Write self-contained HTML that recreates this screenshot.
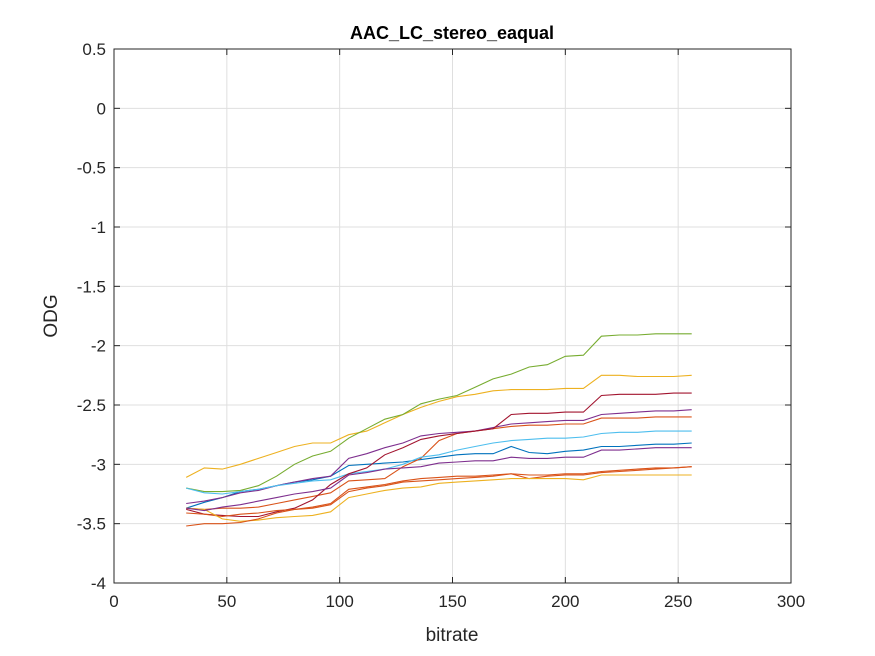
<!DOCTYPE html>
<html><head><meta charset="utf-8">
<style>
html,body{margin:0;padding:0;background:#fff;width:875px;height:656px;overflow:hidden}
svg text{font-family:"Liberation Sans",Arial,sans-serif;fill:#262626}
</style></head>
<body>
<svg id="chart" width="875" height="656" xmlns="http://www.w3.org/2000/svg">
<rect x="0" y="0" width="875" height="656" fill="#fff"/>
<text x="452" y="39" text-anchor="middle" font-size="18" font-weight="bold" style="fill:#000">AAC_LC_stereo_eaqual</text>
<text transform="translate(57,316) rotate(-90)" text-anchor="middle" font-size="19">ODG</text>
<text x="452" y="641" text-anchor="middle" font-size="19">bitrate</text>
<g id="grid"></g><g id="series"></g><g id="axes"></g>
</svg>
<script>
const bitrates = [32,40,48,56,64,72,80,88,96,104,112,120,128,136,144,152,160,168,176,184,192,200,208,216,224,232,240,248,256];
const xTicks = [0,50,100,150,200,250,300];
const yTicks = [0.5,0,-0.5,-1,-1.5,-2,-2.5,-3,-3.5,-4];
const yTickLabels = ["0.5","0","-0.5","-1","-1.5","-2","-2.5","-3","-3.5","-4"];
const sBlue = [-3.37,-3.32,-3.28,-3.23,-3.21,-3.18,-3.15,-3.13,-3.1,-3.01,-3.0,-2.99,-2.98,-2.96,-2.94,-2.92,-2.91,-2.91,-2.85,-2.9,-2.91,-2.89,-2.88,-2.85,-2.85,-2.84,-2.83,-2.83,-2.82];
const sOrange = [-3.37,-3.38,-3.37,-3.37,-3.36,-3.33,-3.3,-3.27,-3.24,-3.14,-3.13,-3.12,-3.02,-2.95,-2.8,-2.74,-2.72,-2.7,-2.68,-2.67,-2.67,-2.66,-2.66,-2.61,-2.61,-2.61,-2.6,-2.6,-2.6];
const sYellow = [-3.11,-3.03,-3.04,-3.0,-2.95,-2.9,-2.85,-2.82,-2.82,-2.75,-2.72,-2.65,-2.58,-2.52,-2.47,-2.43,-2.41,-2.38,-2.37,-2.37,-2.37,-2.36,-2.36,-2.25,-2.25,-2.26,-2.26,-2.26,-2.25];
const sPurple = [-3.33,-3.31,-3.28,-3.24,-3.22,-3.18,-3.15,-3.12,-3.1,-2.95,-2.91,-2.86,-2.82,-2.76,-2.74,-2.73,-2.72,-2.69,-2.66,-2.65,-2.64,-2.63,-2.63,-2.58,-2.57,-2.56,-2.55,-2.55,-2.54];
const sGreen = [-3.2,-3.23,-3.23,-3.22,-3.18,-3.1,-3.0,-2.93,-2.89,-2.78,-2.7,-2.62,-2.58,-2.49,-2.45,-2.42,-2.35,-2.28,-2.24,-2.18,-2.16,-2.09,-2.08,-1.92,-1.91,-1.91,-1.9,-1.9,-1.9];
const sCyan = [-3.2,-3.24,-3.25,-3.23,-3.21,-3.18,-3.16,-3.14,-3.13,-3.08,-3.06,-3.04,-3.0,-2.94,-2.92,-2.88,-2.85,-2.82,-2.8,-2.79,-2.78,-2.78,-2.77,-2.74,-2.73,-2.73,-2.72,-2.72,-2.72];
const sDarkRed = [-3.38,-3.42,-3.43,-3.44,-3.44,-3.4,-3.37,-3.3,-3.17,-3.08,-3.03,-2.92,-2.86,-2.79,-2.76,-2.74,-2.72,-2.7,-2.58,-2.57,-2.57,-2.56,-2.56,-2.42,-2.41,-2.41,-2.41,-2.4,-2.4];
const sOrange2 = [-3.41,-3.42,-3.44,-3.42,-3.41,-3.39,-3.38,-3.37,-3.34,-3.23,-3.2,-3.18,-3.15,-3.14,-3.13,-3.12,-3.11,-3.1,-3.08,-3.12,-3.1,-3.09,-3.09,-3.07,-3.06,-3.05,-3.04,-3.03,-3.02];
const sYellow2 = [-3.37,-3.38,-3.46,-3.48,-3.47,-3.45,-3.44,-3.43,-3.4,-3.28,-3.25,-3.22,-3.2,-3.19,-3.16,-3.15,-3.14,-3.13,-3.12,-3.12,-3.12,-3.12,-3.13,-3.09,-3.09,-3.09,-3.09,-3.09,-3.09];
const sPurple2 = [-3.37,-3.39,-3.36,-3.34,-3.31,-3.28,-3.25,-3.23,-3.2,-3.09,-3.07,-3.04,-3.03,-3.02,-2.99,-2.98,-2.97,-2.97,-2.94,-2.95,-2.95,-2.94,-2.94,-2.88,-2.88,-2.87,-2.86,-2.86,-2.86];
const sRedLow = [-3.52,-3.5,-3.5,-3.49,-3.46,-3.41,-3.38,-3.36,-3.33,-3.21,-3.19,-3.17,-3.14,-3.12,-3.11,-3.1,-3.1,-3.09,-3.08,-3.09,-3.09,-3.08,-3.08,-3.06,-3.05,-3.04,-3.03,-3.03,-3.02];

const L=114,R=791,T=49,B=583;
const xScale=v=>L+(v-0)/(300-0)*(R-L);
const yScale=v=>T+(0.5-v)/(0.5-(-4))*(B-T);
const NS="http://www.w3.org/2000/svg";
function mk(tag,attrs,parent){const e=document.createElementNS(NS,tag);for(const k in attrs)e.setAttribute(k,attrs[k]);parent.appendChild(e);return e;}
const grid=document.getElementById('grid'),axes=document.getElementById('axes'),ser=document.getElementById('series');
xTicks.forEach(t=>{
  const x=xScale(t);
  const g=mk('line',{x1:x,x2:x,y1:T,y2:B,stroke:'#dfdfdf','stroke-width':1},grid);
  
  
  mk('line',{x1:x,x2:x,y1:B,y2:B-6,stroke:'#262626','stroke-width':1},axes);
  mk('line',{x1:x,x2:x,y1:T,y2:T+6,stroke:'#262626','stroke-width':1},axes);
  const tx=mk('text',{x:x,y:B+24,'text-anchor':'middle','font-size':17},axes);
  tx.textContent=t;
  
  
});
yTicks.forEach((t,i)=>{
  const y=yScale(t);
  const g=mk('line',{x1:L,x2:R,y1:y,y2:y,stroke:'#dfdfdf','stroke-width':1},grid);
  
  
  mk('line',{x1:L,x2:L+6,y1:y,y2:y,stroke:'#262626','stroke-width':1},axes);
  mk('line',{x1:R,x2:R-6,y1:y,y2:y,stroke:'#262626','stroke-width':1},axes);
  const tx=mk('text',{x:L-8,y:y+6,'text-anchor':'end','font-size':17},axes);
  tx.textContent=yTickLabels[i];
  
  
});
const box=mk('rect',{x:L,y:T,width:R-L,height:B-T,fill:'none',stroke:'#262626','stroke-width':1},axes);


const series=[[sBlue,'#0072BD'],[sOrange,'#D95319'],[sYellow,'#EDB120'],[sPurple,'#7E2F8E'],[sGreen,'#77AC30'],[sCyan,'#4DBEEE'],[sDarkRed,'#A2142F'],[sOrange2,'#D95319'],[sYellow2,'#EDB120'],[sPurple2,'#7E2F8E'],[sRedLow,'#D95319']];
series.forEach((s,i)=>{
  const pts=s[0].map((v,j)=>xScale(bitrates[j]).toFixed(1)+','+yScale(v).toFixed(1)).join(' ');
  const p=mk('polyline',{points:pts,fill:'none',stroke:s[1],'stroke-width':1.1},ser);
  
  
});
</script>
</body></html>
